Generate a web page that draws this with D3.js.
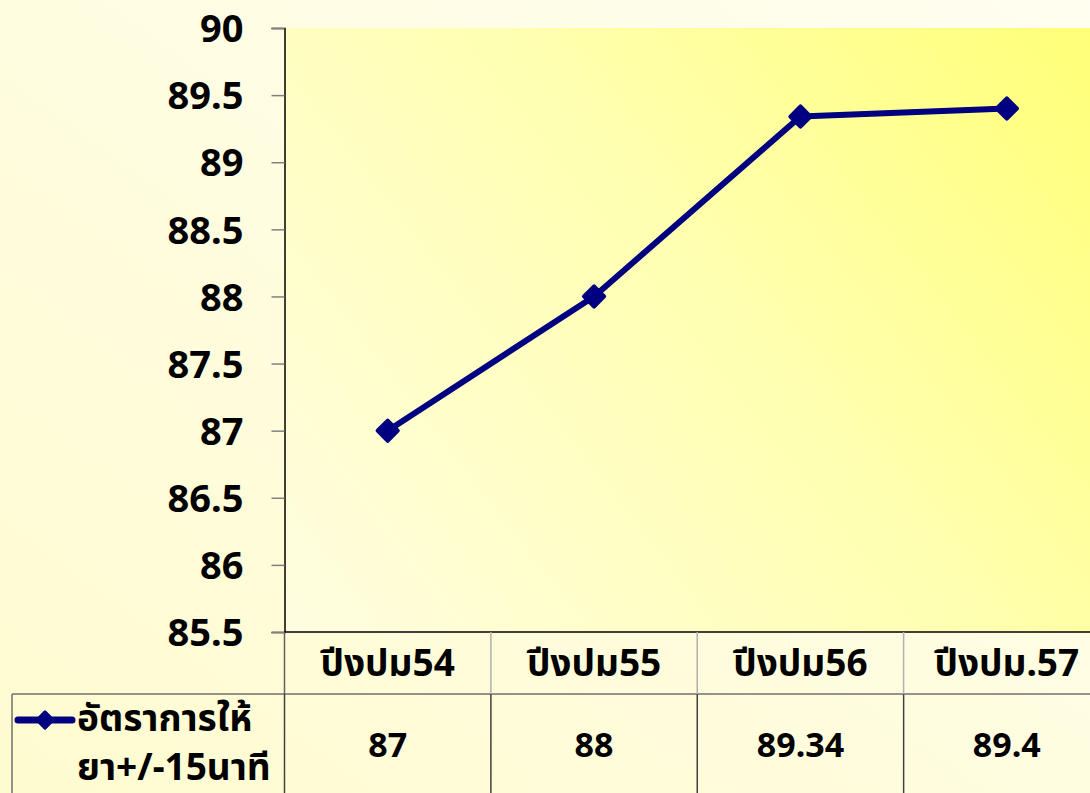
<!DOCTYPE html>
<html>
<head>
<meta charset="utf-8">
<script src="https://cdn.jsdelivr.net/npm/d3@7"></script>
<style>
  body { margin: 0; overflow: hidden; }
  svg { display: block; }
  text { font-family: 'Noto Sans', 'Noto Sans Thai', Tahoma, sans-serif; font-weight: bold; fill: #000; }
</style>
</head>
<body>
<svg id="chart" width="1090" height="793"></svg>
<script>
// chart data
const categories = ['ปีงปม54', 'ปีงปม55', 'ปีงปม56', 'ปีงปม.57'];
const values = [87, 88, 89.34, 89.4];
const valueLabels = ['87', '88', '89.34', '89.4'];
const seriesName = ['อัตราการให้', 'ยา+/-15นาที'];
const yTicks = [85.5, 86, 86.5, 87, 87.5, 88, 88.5, 89, 89.5, 90];

const W = 1090, H = 793;
const plot = { left: 284.5, top: 28, bottom: 632, right: 1110 };
const svg = d3.select('#chart');
const defs = svg.append('defs');

// outer background gradient
const bg = defs.append('linearGradient').attr('id', 'bg')
    .attr('x1', '0%').attr('y1', '100%').attr('x2', '100%').attr('y2', '0%');
bg.append('stop').attr('offset', '0%').attr('stop-color', '#fffbd0');
bg.append('stop').attr('offset', '100%').attr('stop-color', '#fffef0');

// plot area gradient: bright at top-right
const pg = defs.append('linearGradient').attr('id', 'pg')
    .attr('gradientUnits', 'userSpaceOnUse')
    .attr('x1', 300).attr('y1', 640).attr('x2', 1090).attr('y2', 30);
pg.append('stop').attr('offset', '0%').attr('stop-color', '#fffde0');
pg.append('stop').attr('offset', '55%').attr('stop-color', '#ffffb0');
pg.append('stop').attr('offset', '100%').attr('stop-color', '#ffff78');

svg.append('rect').attr('width', W).attr('height', H).attr('fill', 'url(#bg)');
svg.append('rect')
    .attr('x', plot.left).attr('y', plot.top)
    .attr('width', plot.right - plot.left).attr('height', plot.bottom - plot.top)
    .attr('fill', 'url(#pg)');

const x = d3.scaleBand().domain(categories).range([plot.left, plot.right]);
const y = d3.scaleLinear().domain([85.5, 90]).range([plot.bottom, plot.top]);

// y axis
const yAxis = svg.append('g')
    .attr('transform', `translate(${plot.left},0)`)
    .call(d3.axisLeft(y).tickValues(yTicks).tickSize(13).tickPadding(28)
        .tickFormat(d => d3.format('~g')(d)));
yAxis.select('.domain').attr('stroke', '#000').attr('stroke-width', 1.5);
yAxis.selectAll('.tick line').attr('stroke', '#808080').attr('stroke-width', 1.5);
yAxis.selectAll('.tick text')
    .attr('font-size', 38).attr('font-family', null).attr('dy', '0.36em')
    .style('font-weight', 'bold');

// data table
const headerBottom = 694;
const table = svg.append('g');
table.append('line')
    .attr('x1', plot.left).attr('x2', W).attr('y1', plot.bottom).attr('y2', plot.bottom)
    .attr('stroke', '#000').attr('stroke-width', 1.5);
table.append('line')
    .attr('x1', 12).attr('x2', W).attr('y1', headerBottom).attr('y2', headerBottom)
    .attr('stroke', '#707070').attr('stroke-width', 1.5);
table.append('line')
    .attr('x1', 12).attr('x2', 12).attr('y1', headerBottom).attr('y2', H)
    .attr('stroke', '#707070').attr('stroke-width', 1.5);
categories.forEach((c, i) => {
    const xx = x(c);
    table.append('line')
        .attr('x1', xx).attr('x2', xx).attr('y1', plot.bottom).attr('y2', headerBottom)
        .attr('stroke', i === 0 ? '#606060' : '#b0b0b0').attr('stroke-width', 1.5);
    table.append('line')
        .attr('x1', xx).attr('x2', xx).attr('y1', headerBottom).attr('y2', H)
        .attr('stroke', '#404040').attr('stroke-width', 1.5);
    table.append('text')
        .attr('x', xx + x.bandwidth() / 2).attr('y', 663)
        .attr('text-anchor', 'middle').attr('dy', '0.35em')
        .attr('font-size', 37).text(c);
    table.append('text')
        .attr('x', xx + x.bandwidth() / 2).attr('y', 745)
        .attr('text-anchor', 'middle').attr('dy', '0.36em')
        .attr('font-size', 34).text(valueLabels[i]);
});

// legend key inside the table
const lg = table.append('g');
lg.append('line').attr('x1', 18).attr('x2', 72).attr('y1', 720).attr('y2', 720)
    .attr('stroke', '#000080').attr('stroke-width', 7).attr('stroke-linecap', 'round');
lg.append('path').attr('d', d3.symbol(d3.symbolDiamond2, 170)())
    .attr('transform', 'translate(45,720)')
    .attr('fill', '#000080').attr('stroke', '#000080')
    .attr('stroke-width', 3).attr('stroke-linejoin', 'round');
seriesName.forEach((s, i) => {
    lg.append('text').attr('x', 77).attr('y', 718 + i * 49)
        .attr('dy', '0.35em').attr('font-size', 37).text(s);
});

// series line
const cx = (d, i) => x(categories[i]) + x.bandwidth() / 2;
svg.append('path')
    .datum(values)
    .attr('fill', 'none').attr('stroke', '#000080').attr('stroke-width', 6)
    .attr('stroke-linejoin', 'round')
    .attr('d', d3.line().x(cx).y(d => y(d)));
svg.selectAll('.marker')
    .data(values).enter().append('path')
    .attr('class', 'marker')
    .attr('d', d3.symbol(d3.symbolDiamond2, 260)())
    .attr('transform', (d, i) => `translate(${cx(d, i)},${y(d)})`)
    .attr('fill', '#000080').attr('stroke', '#000080')
    .attr('stroke-width', 4).attr('stroke-linejoin', 'round');
</script>
</body>
</html>
